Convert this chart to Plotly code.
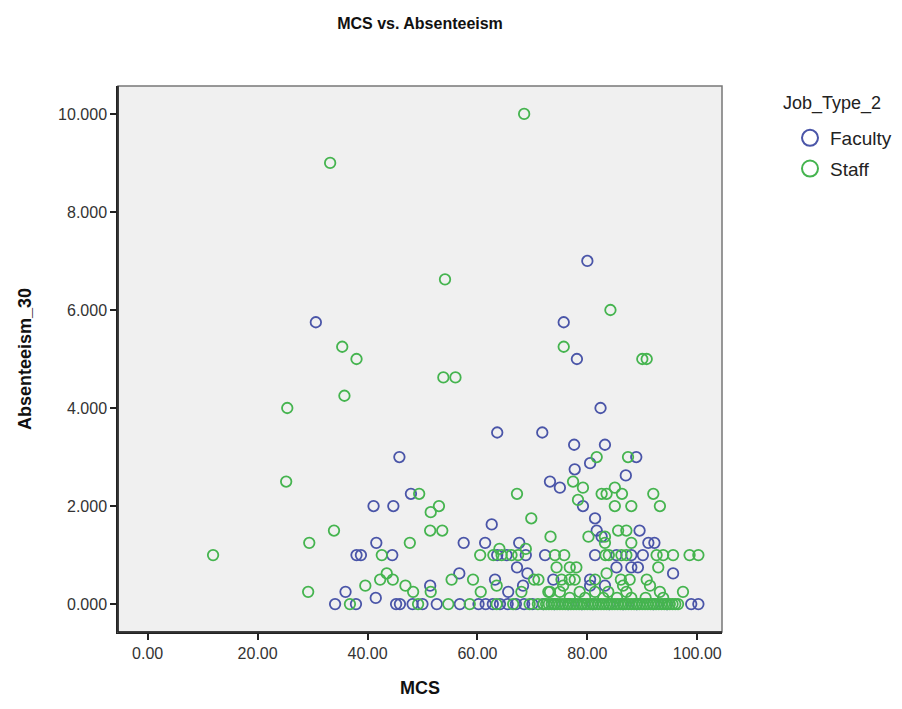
import plotly.graph_objects as go

# ---------------- data ----------------
faculty_mcs = [30.6, 80.0, 75.7, 78.1, 82.4, 45.8, 63.6, 71.8, 77.6, 83.2, 80.5, 88.9, 77.7, 87.0,
               73.2, 75.0, 47.9, 41.1, 44.7, 79.2, 81.4, 62.6, 81.7, 89.5, 82.6,
               41.6, 57.5, 61.4, 67.6, 91.1, 92.2,
               38.0, 38.8, 44.5, 63.6, 65.3, 68.8, 72.3, 81.4, 85.3, 88.0, 90.1,
               67.2, 85.3, 88.0, 89.2,
               56.7, 69.1, 95.6,
               63.2, 73.8, 80.5,
               51.4, 68.3, 80.5, 83.2,
               36.0, 65.6,
               41.5,
               34.1, 37.9, 45.2, 45.9, 48.2, 50.0, 52.6, 56.8, 60.2, 61.5, 62.8, 64.1, 65.5, 67.0,
               68.5, 70.0, 72.0, 74.0, 76.5, 79.0, 81.0, 84.0, 86.5, 89.0, 92.0, 94.5, 98.9, 100.2]
faculty_abs = [5.75, 7.0, 5.75, 5.0, 4.0, 3.0, 3.5, 3.5, 3.25, 3.25, 2.875, 3.0, 2.75, 2.625,
               2.5, 2.375, 2.25, 2.0, 2.0, 2.0, 1.75, 1.625, 1.5, 1.5, 1.375,
               1.25, 1.25, 1.25, 1.25, 1.25, 1.25,
               1.0, 1.0, 1.0, 1.0, 1.0, 1.0, 1.0, 1.0, 1.0, 1.0, 1.0,
               0.75, 0.75, 0.75, 0.75,
               0.625, 0.625, 0.625,
               0.5, 0.5, 0.5,
               0.375, 0.375, 0.375, 0.375,
               0.25, 0.25,
               0.125,
               0, 0, 0, 0, 0, 0, 0, 0, 0, 0, 0, 0, 0, 0,
               0, 0, 0, 0, 0, 0, 0, 0, 0, 0, 0, 0, 0, 0]

staff_mcs = [68.5, 33.2, 54.1, 84.2, 35.4, 75.7, 38.0, 90.0, 90.8, 53.8, 56.0, 35.8, 25.4, 25.2,
             81.7, 87.4, 77.4, 79.2, 85.0, 49.4, 67.2, 82.6, 83.5, 86.3, 92.0, 78.3,
             53.0, 85.0, 88.0, 93.2, 51.5, 69.8,
             33.9, 51.4, 53.6, 85.6, 87.1, 73.3, 80.2, 83.2,
             29.4, 47.7, 83.2, 88.0, 64.0, 68.8,
             11.9, 42.6, 60.5, 62.9, 64.4, 66.2, 67.4, 74.1, 75.8, 83.3, 83.9, 86.2, 87.1,
             92.6, 93.8, 95.6, 98.6, 100.2,
             74.4, 76.8, 78.0, 92.9,
             43.5, 83.5,
             42.3, 44.6, 55.3, 59.2, 70.3, 71.1, 75.3, 76.8, 77.7, 81.4, 86.1, 87.7, 90.8,
             39.6, 46.9, 63.5, 75.6, 86.5, 91.4,
             29.2, 48.3, 51.5, 60.6, 68.0, 72.9, 73.2, 75.0, 78.6, 81.4, 83.8, 87.1, 93.2, 97.4,
             76.8, 82.9, 88.0, 93.8, 79.6, 85.4, 90.6,
             36.8, 49.2, 54.7, 58.6, 63.5, 66.5, 69.5, 71.0, 72.0, 72.5, 73.0, 73.5, 74.0, 74.5,
             75.0, 75.5, 76.0, 76.5, 77.0, 77.5, 78.0, 78.5, 79.0, 79.5, 80.0, 80.5, 81.0,
             81.5, 82.0, 82.5, 83.0, 83.5, 84.0, 84.5, 85.0, 85.5, 86.0, 86.5, 87.0, 87.5,
             88.0, 88.5, 89.0, 89.5, 90.0, 90.5, 91.0, 91.5, 92.0, 92.5, 93.0, 93.5, 94.0,
             94.5, 95.0, 95.5, 96.0, 96.5]
staff_abs = [10.0, 9.0, 6.625, 6.0, 5.25, 5.25, 5.0, 5.0, 5.0, 4.625, 4.625, 4.25, 4.0, 2.5,
             3.0, 3.0, 2.5, 2.375, 2.375, 2.25, 2.25, 2.25, 2.25, 2.25, 2.25, 2.125,
             2.0, 2.0, 2.0, 2.0, 1.875, 1.75,
             1.5, 1.5, 1.5, 1.5, 1.5, 1.375, 1.375, 1.375,
             1.25, 1.25, 1.25, 1.25, 1.125, 1.125,
             1.0, 1.0, 1.0, 1.0, 1.0, 1.0, 1.0, 1.0, 1.0, 1.0, 1.0, 1.0, 1.0,
             1.0, 1.0, 1.0, 1.0, 1.0,
             0.75, 0.75, 0.75, 0.75,
             0.625, 0.625,
             0.5, 0.5, 0.5, 0.5, 0.5, 0.5, 0.5, 0.5, 0.5, 0.5, 0.5, 0.5, 0.5,
             0.375, 0.375, 0.375, 0.375, 0.375, 0.375,
             0.25, 0.25, 0.25, 0.25, 0.25, 0.25, 0.25, 0.25, 0.25, 0.25, 0.25, 0.25, 0.25, 0.25,
             0.125, 0.125, 0.125, 0.125, 0.125, 0.125, 0.125,
             0, 0, 0, 0, 0, 0, 0, 0, 0, 0, 0, 0, 0, 0,
             0, 0, 0, 0, 0, 0, 0, 0, 0, 0, 0, 0, 0,
             0, 0, 0, 0, 0, 0, 0, 0, 0, 0, 0, 0, 0,
             0, 0, 0, 0, 0, 0, 0, 0, 0, 0, 0, 0, 0,
             0, 0, 0, 0, 0]

x_ticks = [0, 20, 40, 60, 80, 100]
y_ticks = [0, 2, 4, 6, 8, 10]
legend_title = "Job_Type_2"

BLUE = "#4a55a8"
GREEN = "#45b44f"
FONT = "Liberation Sans, Arial, sans-serif"

fig = go.Figure()
fig.add_trace(go.Scatter(
    x=faculty_mcs, y=faculty_abs, mode="markers", name="Faculty", showlegend=False,
    marker=dict(symbol="circle-open", size=10.5, color=BLUE, line=dict(width=1.8, color=BLUE)),
))
fig.add_trace(go.Scatter(
    x=staff_mcs, y=staff_abs, mode="markers", name="Staff", showlegend=False,
    marker=dict(symbol="circle-open", size=10.5, color=GREEN, line=dict(width=1.8, color=GREEN)),
))
# legend entries (larger symbols, as in the reference)
fig.add_trace(go.Scatter(
    x=[None], y=[None], mode="markers", name="Faculty", legendgroup="f",
    marker=dict(symbol="circle-open", size=20, color=BLUE, line=dict(width=2, color=BLUE)),
))
fig.add_trace(go.Scatter(
    x=[None], y=[None], mode="markers", name="Staff", legendgroup="s",
    marker=dict(symbol="circle-open", size=20, color=GREEN, line=dict(width=2, color=GREEN)),
))

fig.update_layout(
    width=902, height=709,
    margin=dict(l=118, r=180, t=86, b=77, autoexpand=False),
    paper_bgcolor="white",
    plot_bgcolor="#f0f0f0",
    font=dict(family=FONT, color="#333333", size=12),
    title=dict(text="<b>MCS vs. Absenteeism</b>", x=(118 + 302) / 902, xanchor="center",
               y=1 - 23 / 709, yanchor="middle", font=dict(size=16, color="#111111")),
    showlegend=True,
    legend=dict(
        x=(790 - 118) / 604, y=(632 - 119) / 546, xanchor="left", yanchor="top",
        font=dict(size=19, color="#222222"),
        itemsizing="trace", bgcolor="rgba(0,0,0,0)", tracegroupgap=3,
    ),
    annotations=[dict(
        text=legend_title, xref="paper", yref="paper",
        x=(781 - 118) / 604, y=(632 - 103) / 546, xanchor="left", yanchor="middle",
        showarrow=False, font=dict(size=18, color="#222222"),
    )],
)
fig.update_xaxes(
    range=[-5.4, 104.5], tickvals=x_ticks, tickformat=".2f",
    showgrid=False, zeroline=False,
    showline=True, linecolor="#222222", linewidth=1.5, mirror=False,
    ticks="outside", ticklen=6, tickwidth=1.5, tickcolor="#222222",
    tickfont=dict(size=16, color="#333333"),
    title=dict(text="<b>MCS</b>", font=dict(size=18, color="#111111"), standoff=20),
)
fig.update_yaxes(
    range=[-0.57, 10.57], tickvals=y_ticks, tickformat=".3f",
    showgrid=False, zeroline=False,
    showline=True, linecolor="#222222", linewidth=1.5, mirror=False,
    ticks="outside", ticklen=6, tickwidth=1.5, tickcolor="#222222",
    tickfont=dict(size=16, color="#333333"),
    title=dict(text="<b>Absenteeism_30</b>", font=dict(size=18, color="#111111"), standoff=22),
)
# plot frame (top/right edges in grey)
fig.add_shape(type="rect", xref="paper", yref="paper", x0=0, y0=0, x1=1, y1=1,
              line=dict(color="#777777", width=1.5), layer="above")
fig.add_shape(type="line", xref="paper", yref="paper", x0=0, y0=0, x1=0, y1=1,
              line=dict(color="#222222", width=1.5), layer="above")
fig.add_shape(type="line", xref="paper", yref="paper", x0=0, y0=0, x1=1, y1=0,
              line=dict(color="#222222", width=1.5), layer="above")

fig.write_html("out.html")
